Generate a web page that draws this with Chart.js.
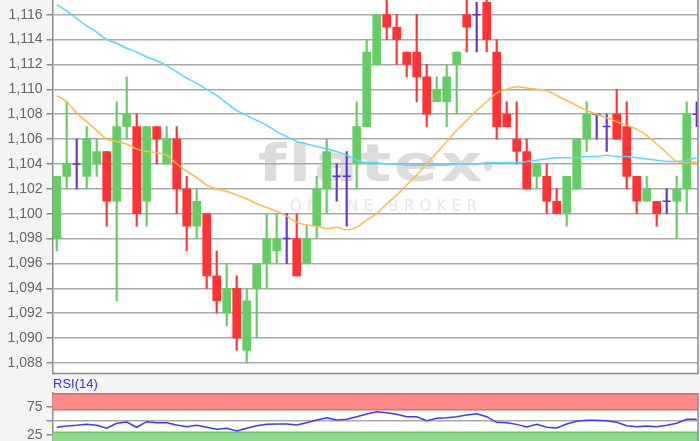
<!DOCTYPE html>
<html>
<head>
<meta charset="utf-8">
<script src="https://cdn.jsdelivr.net/npm/chart.js@4.4.1/dist/chart.umd.min.js"></script>
<style>
html, body { margin: 0; padding: 0; background: #f4f4f4; overflow: hidden; width: 700px; height: 441px; }
#price { position: absolute; left: 0; top: 0; }
#rsi { position: absolute; left: 0; top: 375px; }
</style>
</head>
<body>
<canvas id="price" width="700" height="375"></canvas>
<canvas id="rsi" width="700" height="76"></canvas>
<script>
// OHLC per session
var opens  = [1.098,1.103,1.104,1.103,1.104,1.105,1.101,1.107,1.107,1.101,1.107,1.104,1.106,1.102,1.099,1.100,1.095,1.092,1.094,1.089,1.094,1.096,1.097,1.098,1.098,1.096,1.099,1.102,1.103,1.103,1.104,1.107,1.112,1.116,1.115,1.113,1.113,1.111,1.109,1.109,1.112,1.116,1.116,1.117,1.113,1.108,1.106,1.105,1.103,1.103,1.101,1.100,1.102,1.106,1.108,1.107,1.108,1.107,1.103,1.101,1.101,1.101,1.101,1.102,1.108];
var highs  = [1.103,1.109,1.106,1.107,1.106,1.105,1.109,1.111,1.108,1.107,1.107,1.107,1.107,1.103,1.102,1.100,1.097,1.096,1.095,1.094,1.096,1.100,1.100,1.100,1.100,1.099,1.103,1.106,1.104,1.105,1.109,1.114,1.116,1.118,1.116,1.113,1.116,1.112,1.111,1.112,1.113,1.118,1.117,1.118,1.114,1.109,1.109,1.106,1.104,1.104,1.102,1.103,1.106,1.109,1.108,1.108,1.110,1.109,1.103,1.103,1.101,1.102,1.103,1.109,1.109];
var lows   = [1.097,1.102,1.102,1.102,1.103,1.099,1.093,1.106,1.099,1.099,1.104,1.104,1.100,1.097,1.098,1.094,1.092,1.091,1.089,1.088,1.090,1.094,1.096,1.096,1.095,1.096,1.098,1.100,1.101,1.099,1.102,1.107,1.112,1.114,1.112,1.111,1.109,1.107,1.109,1.107,1.108,1.113,1.113,1.113,1.106,1.107,1.104,1.102,1.102,1.100,1.100,1.099,1.102,1.105,1.106,1.105,1.106,1.102,1.100,1.101,1.099,1.100,1.098,1.100,1.107];
var closes = [1.103,1.104,1.104,1.106,1.105,1.101,1.107,1.108,1.100,1.107,1.106,1.106,1.102,1.099,1.101,1.095,1.093,1.094,1.090,1.093,1.096,1.098,1.098,1.098,1.095,1.098,1.102,1.105,1.103,1.103,1.107,1.113,1.116,1.115,1.114,1.112,1.111,1.108,1.110,1.111,1.113,1.115,1.116,1.114,1.107,1.107,1.105,1.102,1.104,1.101,1.100,1.103,1.106,1.108,1.108,1.107,1.106,1.103,1.101,1.102,1.100,1.101,1.102,1.108,1.108];

// moving averages
var maLong  = [1.1168,1.1163,1.1157,1.1151,1.1146,1.1140,1.1137,1.1133,1.1130,1.1126,1.1123,1.1119,1.1114,1.1109,1.1105,1.1100,1.1095,1.1089,1.1083,1.1079,1.1075,1.1071,1.1066,1.1062,1.1058,1.1056,1.1054,1.1052,1.1050,1.1047,1.1043,1.1041,1.1041,1.1040,1.1040,1.1039,1.1039,1.1039,1.1039,1.1039,1.1040,1.1040,1.1040,1.1041,1.1041,1.1041,1.1041,1.1042,1.1043,1.1044,1.1045,1.1045,1.1045,1.1046,1.1046,1.1047,1.1046,1.1046,1.1045,1.1044,1.1043,1.1042,1.1042,1.1043,1.1045];
var maShort = [1.1095,1.1090,1.1081,1.1074,1.1067,1.1060,1.1058,1.1056,1.1052,1.1050,1.1049,1.1047,1.1040,1.1034,1.1029,1.1023,1.1020,1.1018,1.1015,1.1012,1.1008,1.1005,1.1002,1.0998,1.0993,1.0991,1.0990,1.0988,1.0989,1.0987,1.0989,1.0995,1.1000,1.1008,1.1015,1.1023,1.1031,1.1040,1.1049,1.1058,1.1067,1.1075,1.1083,1.1090,1.1097,1.1100,1.1102,1.1101,1.1100,1.1099,1.1095,1.1091,1.1087,1.1083,1.1080,1.1077,1.1074,1.1071,1.1068,1.1063,1.1056,1.1049,1.1042,1.1041,1.1042];

// RSI(14)
var rsi = [38.8,41,42.3,44,42.3,37,45.9,48.2,38.8,48.8,47,47,42.9,39.8,42.3,38.8,35.1,37,32.1,37,41.6,44,44.6,44.6,42.9,47,51.8,55.9,51.8,53,57.7,62.5,66.6,64.8,62,57.7,57.7,50.5,54.8,55.9,57.7,60.7,63,57.7,47.6,47,44,39.3,44,38.8,37.5,44.6,49.4,51.2,51.2,50.6,47.6,41.6,39.8,41,39.8,42.3,45.9,53,53];

var priceTicks = [1.088,1.090,1.092,1.094,1.096,1.098,1.100,1.102,1.104,1.106,1.108,1.110,1.112,1.114,1.116];
var rsiTicks = [25, 50, 75];

var UP = '#66cc66', DOWN = '#ff3333', DOJI = '#6633cc';

var bodies = [], bodyColors = [], wicks = [], wickColors = [], dojis = [];
for (var i = 0; i < opens.length; i++) {
  var col = closes[i] > opens[i] ? UP : (closes[i] < opens[i] ? DOWN : DOJI);
  wicks.push({x: i, y: [lows[i], highs[i]]});
  wickColors.push(col);
  if (col === DOJI) {
    dojis.push({x: i, y: opens[i]});
  } else {
    bodies.push({x: i, y: [opens[i], closes[i]]});
    bodyColors.push(col);
  }
}
function xy(arr) { return arr.map(function(v, i) { return {x: i, y: v}; }); }

// spread text over a given width, optionally stretched horizontally
function fitText(ctx, text, x, y, width, stretch) {
  stretch = stretch || 1;
  ctx.save();
  ctx.translate(x, y);
  ctx.scale(stretch, 1);
  ctx.letterSpacing = '0px';
  var w0 = ctx.measureText(text).width;
  ctx.letterSpacing = ((width / stretch - w0) / (text.length - 1)) + 'px';
  ctx.fillText(text, 0, 0);
  ctx.restore();
}

var frame = {
  id: 'frame',
  beforeDraw: function(chart) {
    var a = chart.chartArea, ctx = chart.ctx;
    ctx.save();
    ctx.fillStyle = '#ffffff';
    ctx.fillRect(a.left, a.top, a.right - a.left, a.bottom - a.top);
    if (chart.canvas.id === 'price') {
      ctx.fillStyle = '#dcdcdc';
      ctx.textBaseline = 'alphabetic';
      ctx.font = 'bold 52px "DejaVu Sans"';
      fitText(ctx, 'flatex', 258, 181, 222, 1.25);
      ctx.beginPath();
      ctx.arc(488, 167, 4, 0, Math.PI * 2);
      ctx.fill();
      ctx.fillStyle = '#e6e6e6';
      ctx.font = '15px "DejaVu Sans"';
      fitText(ctx, 'ONLINE BROKER', 290, 211, 187);
    } else {
      ctx.fillStyle = '#3333ff';
      ctx.font = '13px "Liberation Sans", Arial';
      ctx.textBaseline = 'middle';
      ctx.fillText('RSI(14)', 53, 9);
    }
    ctx.restore();
  },
  beforeDatasetsDraw: function(chart) {
    if (chart.canvas.id !== 'rsi') return;
    var a = chart.chartArea, ctx = chart.ctx, y = chart.scales.y;
    ctx.save();
    var y100 = y.getPixelForValue(100), y70 = y.getPixelForValue(70), y30 = y.getPixelForValue(30);
    ctx.fillStyle = '#ff8a8a';
    ctx.fillRect(a.left, y100, a.right - a.left, y70 - y100);
    ctx.fillStyle = '#8cd98c';
    ctx.fillRect(a.left, y30, a.right - a.left, a.bottom - y30);
    ctx.lineWidth = 1.5;
    ctx.strokeStyle = '#e06a6a';
    ctx.beginPath();
    ctx.moveTo(a.left, y100 + 1); ctx.lineTo(a.right, y100 + 1);
    ctx.moveTo(a.left, y70); ctx.lineTo(a.right, y70);
    ctx.stroke();
    ctx.strokeStyle = '#6cc46c';
    ctx.beginPath();
    ctx.moveTo(a.left, y30); ctx.lineTo(a.right, y30);
    ctx.stroke();
    ctx.restore();
  },
  afterDraw: function(chart) {
    var a = chart.chartArea, ctx = chart.ctx;
    ctx.save();
    ctx.strokeStyle = '#8c8c8c';
    ctx.lineWidth = 1.5;
    ctx.beginPath();
    ctx.moveTo(a.right, a.top);
    ctx.lineTo(a.right, a.bottom);
    if (chart.canvas.id === 'price') ctx.lineTo(a.left, a.bottom);
    ctx.stroke();
    ctx.restore();
  }
};

function yAxis(min, max, ticks, extra) {
  var s = {
    position: 'left', min: min, max: max,
    afterBuildTicks: function(scale) { scale.ticks = ticks.map(function(v) { return {value: v}; }); },
    afterFit: function(scale) { scale.width = 52.5; scale.paddingTop = 0; scale.paddingBottom = 0; },
    ticks: { color: '#666666', padding: 4, font: { size: 14, family: '"Liberation Sans", Arial' } },
    grid: { color: '#aaaaaa', lineWidth: 1.5, tickLength: 6, tickColor: '#8c8c8c' },
    border: { color: '#8c8c8c', width: 1.5 }
  };
  for (var k in extra) s[k] = Object.assign(s[k] || {}, extra[k]);
  return s;
}
var xAxis = { type: 'linear', min: -0.42, max: 64.13, display: false, offset: false };

new Chart(document.getElementById('price'), {
  type: 'bar',
  data: {
    datasets: [
      { type: 'line', data: xy(maShort), borderColor: '#ffbb44', borderWidth: 1.5, pointRadius: 0, tension: 0.3 },
      { type: 'line', data: xy(maLong), borderColor: '#55d8ff', borderWidth: 1.5, pointRadius: 0, tension: 0.3 },
      { type: 'line', data: dojis, showLine: false, pointStyle: 'line', pointRadius: 4,
        pointBorderColor: DOJI, pointBorderWidth: 1.5 },
      { data: bodies, backgroundColor: bodyColors, barThickness: 8, grouped: false, borderWidth: 0 },
      { data: wicks, backgroundColor: wickColors, barThickness: 1.5, grouped: false, borderWidth: 0 }
    ]
  },
  options: {
    responsive: false, animation: false,
    layout: { autoPadding: false, padding: { top: 0, right: 2, bottom: 1.5, left: 0 } },
    plugins: { legend: { display: false }, tooltip: { enabled: false } },
    scales: {
      x: xAxis,
      y: yAxis(1.08715, 1.11718, priceTicks, {
        ticks: { callback: function(v) { return v.toFixed(3).replace('.', ','); } }
      })
    }
  },
  plugins: [frame]
});

new Chart(document.getElementById('rsi'), {
  type: 'line',
  data: {
    datasets: [
      { data: xy(rsi), borderColor: '#3b3bff', borderWidth: 1.5, pointRadius: 0, tension: 0 }
    ]
  },
  options: {
    responsive: false, animation: false,
    layout: { autoPadding: false, padding: { top: 18, right: 2, bottom: 2, left: 0 } },
    plugins: { legend: { display: false }, tooltip: { enabled: false } },
    scales: {
      x: xAxis,
      y: yAxis(0, 100, rsiTicks, {
        ticks: { callback: function(v) { return v === 50 ? '' : String(v); } },
        grid: { color: function(c) { return c.tick && c.tick.value === 50 ? '#aaaaaa' : 'rgba(0,0,0,0)'; } }
      })
    }
  },
  plugins: [frame]
});
</script>
</body>
</html>
